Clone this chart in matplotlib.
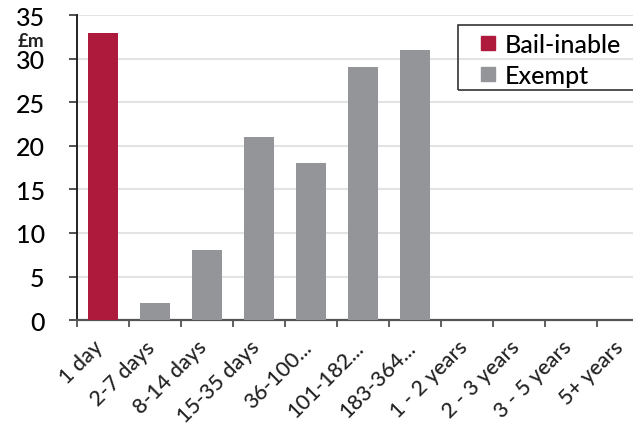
import matplotlib
matplotlib.use('Agg')
import matplotlib.pyplot as plt
from matplotlib.lines import Line2D
from matplotlib.patches import Rectangle
import numpy as np

# maturity buckets and amounts (GBP m)
categories = ['1 day', '2-7 days', '8-14 days', '15-35 days', '36-100...', '101-182...',
              '183-364...', '1 - 2 years', '2 - 3 years', '3 - 5 years', '5+ years']
bail_inable = [33, 0, 0, 0, 0, 0, 0, 0, 0, 0, 0]
exempt = [0, 2, 8, 21, 18, 29, 31, 0, 0, 0, 0]
y_ticks = [0, 5, 10, 15, 20, 25, 30, 35]

red = '#ae1a3b'
grey = '#939598'

plt.rcParams['font.family'] = ['Lato', 'DejaVu Sans']
plt.rcParams['font.weight'] = 'medium'

fig = plt.figure(figsize=(6.33, 4.27), dpi=100)
ax = fig.add_axes([0.121, 0.248, 0.905, 0.714])

x = np.arange(len(categories))
ax.bar(x, bail_inable, width=0.58, color=red, zorder=3)
ax.bar(x, exempt, width=0.58, color=grey, zorder=3)

ax.set_ylim(0, 35)
ax.set_xlim(-0.5, len(categories) - 0.5)
ax.set_yticks(y_ticks)
ax.tick_params(axis='y', labelsize=18, length=6, width=1.2, color='#333333', pad=17)
ax.grid(axis='y', color='#e3e3e3', linewidth=1.5, zorder=0)

# ticks sit at category boundaries
ax.set_xticks(np.arange(len(categories) + 1) - 0.5)
ax.set_xticklabels([])
ax.tick_params(axis='x', length=5, width=1.2, color='#444444')
for i, lab in enumerate(categories):
    ax.annotate(lab, xy=(i, 0), xycoords=('data', 'axes fraction'),
                xytext=(-2, -17), textcoords='offset points',
                rotation=45, ha='right', va='center', rotation_mode='anchor',
                fontsize=15.5, color='#222222')

for s in ['top', 'right']:
    ax.spines[s].set_visible(False)
ax.spines['left'].set_color('#222222')
ax.spines['left'].set_linewidth(1.4)
ax.spines['bottom'].set_color('#555555')
ax.spines['bottom'].set_linewidth(1.6)

fig.text(0.028, 0.89, '£m', fontsize=13.5, fontweight='bold', color='#222222')

handles = [Line2D([], [], marker='s', linestyle='none', markersize=10, color=red,
                  label='Bail-inable'),
           Line2D([], [], marker='s', linestyle='none', markersize=10, color=grey,
                  label='Exempt')]
leg = ax.legend(handles=handles, loc='upper left', bbox_to_anchor=(0.666, 0.962),
                fontsize=18, frameon=False, handlelength=1.9,
                handletextpad=-0.3, borderpad=0.25, labelspacing=0.3, borderaxespad=0)

# legend box runs off the right edge, as in the source
fig.patches.append(Rectangle((458 / 633, 1 - 91 / 427), 0.4, 65 / 427,
                             transform=fig.transFigure, fill=False,
                             edgecolor='#333333', linewidth=1.2, zorder=5))

fig.savefig('out.png', dpi=100)
